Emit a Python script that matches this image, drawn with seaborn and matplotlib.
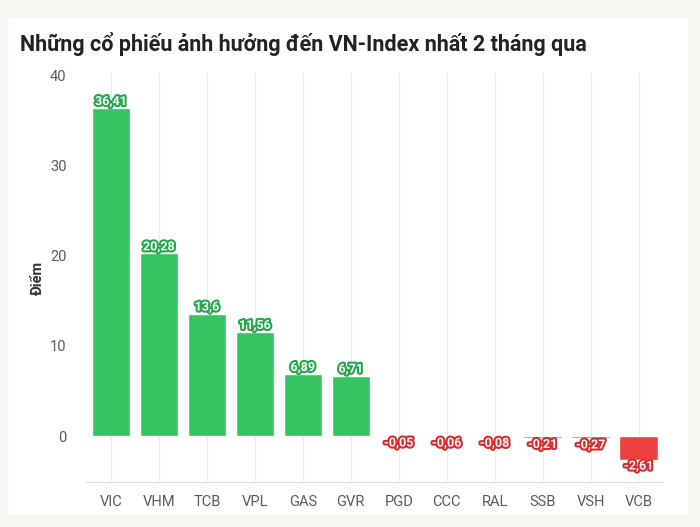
import pandas as pd
import matplotlib.pyplot as plt
import matplotlib.patheffects as pe
from matplotlib.patches import Rectangle
import seaborn as sns

# data
tickers = ["VIC", "VHM", "TCB", "VPL", "GAS", "GVR", "PGD", "CCC", "RAL", "SSB", "VSH", "VCB"]
points = [36.41, 20.28, 13.6, 11.56, 6.89, 6.71, -0.05, -0.06, -0.08, -0.21, -0.27, -2.61]
yticks = [0, 10, 20, 30, 40]

GREEN = "#36c361"
RED = "#ef4040"

df = pd.DataFrame({"ticker": tickers, "points": points})
df["sign"] = ["up" if v >= 0 else "down" for v in points]

sns.set_theme(style="white")
plt.rcParams["font.family"] = ["Roboto", "DejaVu Sans"]

fig = plt.figure(figsize=(7, 5.27), dpi=100)
fig.patch.set_facecolor("#f7f6f2")
fig.patches.append(Rectangle((8 / 700, 1 - 515 / 527), 680 / 700, 497 / 527,
                             transform=fig.transFigure, facecolor="white",
                             edgecolor="none", zorder=-5))

ax = fig.add_axes([86 / 700, 1 - 482 / 527, 577 / 700, 409 / 527])
ax.set_facecolor("none")
ax.set_zorder(2)

sns.barplot(data=df, x="ticker", y="points", hue="sign",
            palette={"up": GREEN, "down": RED}, width=0.8, saturation=1,
            legend=False, ax=ax, zorder=2)

ax.set_xlim(-0.52, 11.51)
ax.set_ylim(-5.1, 40.3)
ax.set_yticks(yticks)
ax.set_yticklabels([str(t) for t in yticks])

ax.grid(axis="x", color="#ececec", linewidth=0.8, zorder=0)
ax.grid(axis="y", visible=False)
ax.set_axisbelow(True)
for s in ["top", "right", "left"]:
    ax.spines[s].set_visible(False)
ax.spines["bottom"].set_color("#dddddd")
ax.spines["bottom"].set_linewidth(0.8)

ax.tick_params(axis="both", length=0, labelsize=10.5, labelcolor="#5a5a5a")
ax.tick_params(axis="x", pad=9)
ax.tick_params(axis="y", pad=14)
ax.set_xlabel("")
ax.set_ylabel("Điểm", fontsize=10.5, fontweight="bold", color="#333333", labelpad=4)

for i, v in enumerate(points):
    txt = f"{v:g}".replace(".", ",")
    edge = "#27a64c" if v >= 0 else "#d32f2f"
    ax.text(i, v, txt, ha="center", va="bottom" if v >= 0 else "top",
            fontsize=9, fontweight="bold", color="#f4fff6" if v >= 0 else "#fff3f3",
            zorder=4,
            path_effects=[pe.withStroke(linewidth=3, foreground=edge)])

fig.text(20 / 700, 1 - 44 / 527, "Những cổ phiếu ảnh hưởng đến VN-Index nhất 2 tháng qua",
         fontsize=15.5, fontweight="bold", color="#222222", va="center", ha="left",
         family=["Roboto", "DejaVu Sans"])

fig.savefig("out.png", dpi=100, facecolor=fig.get_facecolor())
